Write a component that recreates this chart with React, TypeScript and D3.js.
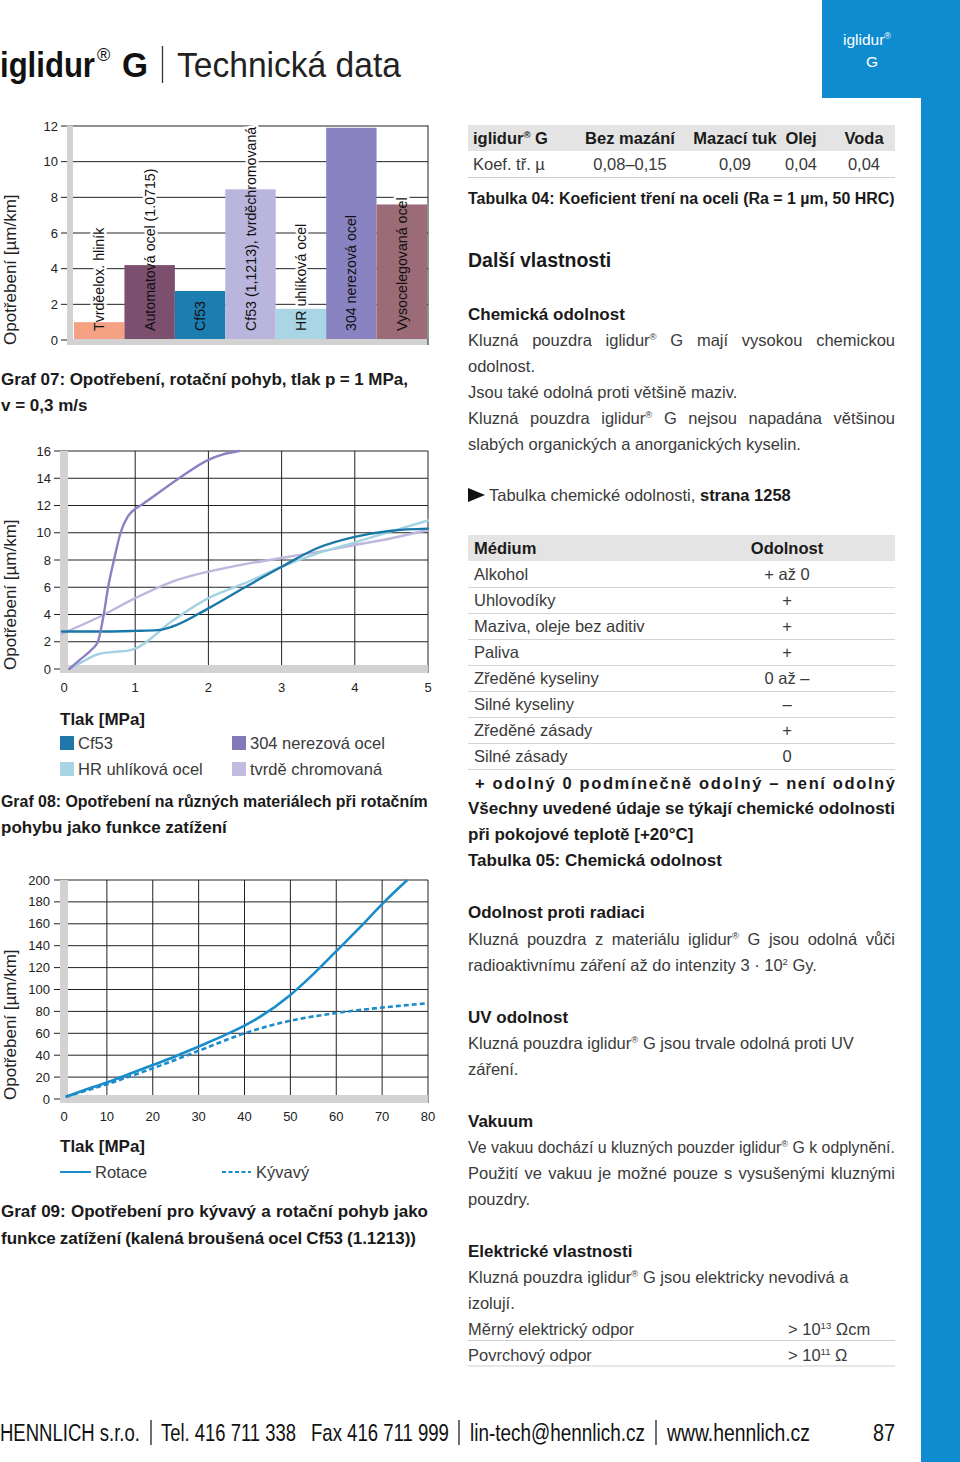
import React from 'react';
import * as d3 from 'd3';

const FONT = "'Liberation Sans', Arial, Helvetica, sans-serif";
const BLUE = '#0f8bd0';
const TXT = '#3a3a3a';
const DARK = '#1a1a1a';

// ---------- Graf 07 (bar chart) ----------
const barCategories = [
  'Tvrděelox. hliník',
  'Automatová ocel (1.0715)',
  'Cf53',
  'Cf53 (1,1213), tvrděchromovaná',
  'HR uhlíková ocel',
  '304 nerezová ocel',
  'Vysocelegovaná ocel',
];
const barValues = [1.0, 4.2, 2.75, 8.45, 1.75, 11.9, 7.6];
const barColors = ['#f4a283', '#7d4f6f', '#1b7db0', '#b9b5dc', '#a9d5e5', '#8a83c2', '#9b6b78'];
const barTicks = [0, 2, 4, 6, 8, 10, 12];

// ---------- Graf 08 (lines) ----------
const g08XTicks = [0, 1, 2, 3, 4, 5];
const g08YTicks = [0, 2, 4, 6, 8, 10, 12, 14, 16];
const cf53P = [0, 0.5, 1, 1.3, 1.5, 2, 2.5, 3, 3.5, 4, 4.5, 5];
const cf53W = [2.75, 2.75, 2.8, 2.85, 3.1, 4.45, 6.0, 7.5, 8.9, 9.7, 10.15, 10.3];
const hrP = [0.1, 0.3, 0.5, 0.7, 0.9, 1, 1.5, 2, 2.5, 3, 3.5, 4, 4.5, 5];
const hrW = [0, 0.6, 1.1, 1.25, 1.35, 1.5, 3.5, 5.2, 6.3, 7.5, 8.5, 9.3, 10.1, 10.9];
const ssP = [0.1, 0.25, 0.42, 0.49, 0.57, 0.63, 0.71, 0.8, 0.9, 1.0, 1.1, 1.6, 2.0, 2.2, 2.42];
const ssW = [0, 0.7, 1.5, 2.0, 4.0, 6.0, 8.0, 10.0, 11.2, 11.75, 12.1, 14.0, 15.35, 15.75, 16];
const chP = [0, 0.5, 1, 1.5, 2, 2.5, 3, 3.5, 4, 4.5, 5];
const chW = [2.6, 3.8, 5.2, 6.4, 7.15, 7.7, 8.15, 8.6, 9.1, 9.6, 10.2];
const g08Series = [
  { name: 'tvrdě chromovaná', p: chP, w: chW, color: '#bdb7de' },
  { name: 'HR uhlíková ocel', p: hrP, w: hrW, color: '#a3d3e3' },
  { name: 'Cf53', p: cf53P, w: cf53W, color: '#1a78a8' },
  { name: '304 nerezová ocel', p: ssP, w: ssW, color: '#8a80c2' },
];

// ---------- Graf 09 (lines) ----------
const g09XTicks = [0, 10, 20, 30, 40, 50, 60, 70, 80];
const g09YTicks = [0, 20, 40, 60, 80, 100, 120, 140, 160, 180, 200];
const rotP = [1, 5, 10, 15, 20, 25, 30, 35, 40, 43, 50, 55, 60, 65, 70, 75.5];
const rotW = [2, 8, 15, 23, 31, 39, 48, 57, 67, 74, 95, 114, 135, 156, 178, 200];
const kyvP = [1, 10, 20, 30, 40, 50, 60, 70, 80];
const kyvW = [2, 13.5, 28, 44, 60, 71.5, 78.5, 83.5, 87.5];

// ---------- Tables ----------
const t04Header = ['iglidur® G', 'Bez mazání', 'Mazací tuk', 'Olej', 'Voda'];
const t04Row = ['Koef. tř. µ', '0,08–0,15', '0,09', '0,04', '0,04'];
const t04Centers = [0, 630, 735, 801, 864];
const t05Media = ['Alkohol', 'Uhlovodíky', 'Maziva, oleje bez aditiv', 'Paliva', 'Zředěné kyseliny', 'Silné kyseliny', 'Zředěné zásady', 'Silné zásady'];
const t05Resist = ['+ až 0', '+', '+', '+', '0 až –', '–', '+', '0'];

// ---------- text helpers ----------
let _ctx: CanvasRenderingContext2D | null = null;
function tw(s: string, size: number, weight: string) {
  if (!_ctx) _ctx = document.createElement('canvas').getContext('2d');
  _ctx!.font = `${weight} ${size}px ${FONT}`;
  return _ctx!.measureText(s).width;
}
type Seg = { t: string; sup: boolean };
function parseRich(s: string): Seg[] {
  const segs: Seg[] = [];
  let buf = '';
  for (let i = 0; i < s.length; i++) {
    const c = s[i];
    if (c === '®') {
      if (buf) segs.push({ t: buf, sup: false });
      buf = '';
      segs.push({ t: '®', sup: true });
    } else if (c === '^' && s[i + 1] === '{') {
      const end = s.indexOf('}', i);
      if (buf) segs.push({ t: buf, sup: false });
      buf = '';
      segs.push({ t: s.slice(i + 2, end), sup: true });
      i = end;
    } else buf += c;
  }
  if (buf) segs.push({ t: buf, sup: false });
  return segs;
}
const SUP = 0.58;
function richWidth(s: string, size: number, weight: string) {
  return parseRich(s).reduce((a, sg) => a + tw(sg.t, sg.sup ? size * SUP : size, weight), 0);
}
function renderSegs(s: string, size: number) {
  let shift = 0;
  return parseRich(s).map((sg, i) => {
    if (sg.sup) {
      const target = -size * 0.38;
      const dy = target - shift;
      shift = target;
      return <tspan key={i} fontSize={size * SUP} dy={dy}>{sg.t}</tspan>;
    }
    const dy = -shift;
    shift = 0;
    return <tspan key={i} dy={dy}>{sg.t}</tspan>;
  });
}

function FitText({ x, y, w, t, size, bold = false, fill = '#111' }: { x: number; y: number; w: number; t: string; size: number; bold?: boolean; fill?: string }) {
  const weight = bold ? 'bold' : 'normal';
  const sx = w / richWidth(t, size, weight);
  return (
    <text transform={`translate(${x},${y}) scale(${sx},1)`} fontSize={size} fontWeight={weight} fill={fill}>
      {renderSegs(t, size)}
    </text>
  );
}

function RLine({ x, y, t, size = 16.5, bold = false, fill, justifyTo }: { x: number; y: number; t: string; size?: number; bold?: boolean; fill?: string; justifyTo?: number }) {
  const weight = bold ? 'bold' : 'normal';
  const color = fill || (bold ? DARK : TXT);
  if (justifyTo) {
    const words = t.split(' ');
    const widths = words.map(w => richWidth(w, size, weight));
    const total = widths.reduce((a, b) => a + b, 0);
    const gap = (justifyTo - x - total) / (words.length - 1);
    if (gap < 3) {
      return <FitText x={x} y={y} w={justifyTo - x} t={t} size={size} bold={bold} fill={color} />;
    }
    let cx = x;
    return (
      <g>
        {words.map((w, i) => {
          const el = (
            <text key={i} x={cx} y={y} fontSize={size} fontWeight={weight} fill={color}>
              {renderSegs(w, size)}
            </text>
          );
          cx += widths[i] + gap;
          return el;
        })}
      </g>
    );
  }
  return (
    <text x={x} y={y} fontSize={size} fontWeight={weight} fill={color}>
      {renderSegs(t, size)}
    </text>
  );
}

function YLabel({ x, y }: { x: number; y: number }) {
  return (
    <text transform={`translate(${x},${y}) rotate(-90)`} dy="0.35em" fontSize={17} fill="#222">
      Opotřebení [µm/km]
    </text>
  );
}

// ---------- Charts ----------
function BarChart() {
  const x = d3.scaleBand<string>().domain(barCategories).range([74, 427]).padding(0);
  const y = d3.scaleLinear().domain([0, 12]).range([340, 126]);
  const bw = x.bandwidth();
  const labelY = 331;
  const fs = 14.2;
  return (
    <g>
      {barTicks.map(t => (
        <g key={t}>
          <line x1={61} x2={428} y1={y(t)} y2={y(t)} stroke="#222" strokeWidth={1} />
          <text x={58} y={y(t)} dy="0.35em" textAnchor="end" fontSize={13} fill="#222">{t}</text>
        </g>
      ))}
      {barCategories.map((c, i) => (
        <text key={'h' + i} transform={`translate(${x(c)! + bw / 2},${labelY}) rotate(-90)`} dy="0.36em" fontSize={fs} stroke="#fff" strokeWidth={5} strokeLinejoin="round" fill="#fff">{c}</text>
      ))}
      {barCategories.map((c, i) => (
        <rect key={'b' + i} x={x(c)} y={y(barValues[i])} width={bw} height={y(0) - y(barValues[i])} fill={barColors[i]} />
      ))}
      {barCategories.map((c, i) => (
        <text key={'l' + i} transform={`translate(${x(c)! + bw / 2},${labelY}) rotate(-90)`} dy="0.36em" fontSize={fs} fill="#111">{c}</text>
      ))}
      <rect x={67} y={125.5} width={6} height={219.5} fill="#d2d2d2" />
      <rect x={67} y={339} width={361} height={6} fill="#d2d2d2" />
      <line x1={428} x2={428} y1={125.5} y2={345} stroke="#222" strokeWidth={1} />
      <YLabel x={10} y={345} />
    </g>
  );
}

function Chart08() {
  const x = d3.scaleLinear().domain([0, 5]).range([62, 428]);
  const y = d3.scaleLinear().domain([0, 16]).range([669, 451]);
  const line = d3.line<[number, number]>().x(d => x(d[0])).y(d => y(d[1])).curve(d3.curveMonotoneX);
  return (
    <g>
      <defs>
        <clipPath id="clip08"><rect x={60} y={449} width={370} height={224} /></clipPath>
      </defs>
      {g08YTicks.map(t => (
        <g key={t}>
          <line x1={54} x2={428} y1={y(t)} y2={y(t)} stroke="#222" strokeWidth={1} />
          <text x={51} y={y(t)} dy="0.35em" textAnchor="end" fontSize={13} fill="#222">{t}</text>
        </g>
      ))}
      {g08XTicks.map(t => (
        <g key={t}>
          {t > 0 && <line x1={x(t)} x2={x(t)} y1={451} y2={673} stroke="#222" strokeWidth={1} />}
          <text x={t === 0 ? 64 : x(t)} y={692} textAnchor="middle" fontSize={13} fill="#222">{t}</text>
        </g>
      ))}
      <rect x={60} y={451} width={8} height={222} fill="#d2d2d2" />
      <rect x={60} y={665} width={368} height={8} fill="#d2d2d2" />
      <g clipPath="url(#clip08)">
        {g08Series.map(s => (
          <path key={s.name} d={line(s.p.map((p, i) => [p, s.w[i]] as [number, number])) || ''} fill="none" stroke={s.color} strokeWidth={2.4} strokeLinecap="round" />
        ))}
      </g>
      <YLabel x={10} y={670} />
      <text x={60} y={725} fontSize={17} fontWeight="bold" fill={DARK}>Tlak [MPa]</text>
      <rect x={60} y={736} width={14} height={14} fill="#1f77a8" />
      <text x={78} y={749} fontSize={16.5} fill={TXT}>Cf53</text>
      <rect x={232} y={736} width={14} height={14} fill="#8279b9" />
      <text x={250} y={749} fontSize={16.5} fill={TXT}>304 nerezová ocel</text>
      <rect x={60} y={762} width={14} height={14} fill="#a8d4e4" />
      <text x={78} y={775} fontSize={16.5} fill={TXT}>HR uhlíková ocel</text>
      <rect x={232} y={762} width={14} height={14} fill="#c1bbe0" />
      <text x={250} y={775} fontSize={16.5} fill={TXT}>tvrdě chromovaná</text>
    </g>
  );
}

function Chart09() {
  const x = d3.scaleLinear().domain([0, 80]).range([61, 428]);
  const y = d3.scaleLinear().domain([0, 200]).range([1099, 880]);
  const line = d3.line<[number, number]>().x(d => x(d[0])).y(d => y(d[1])).curve(d3.curveMonotoneX);
  const c = '#1a8ccc';
  return (
    <g>
      <defs>
        <clipPath id="clip09"><rect x={60} y={878} width={370} height={225} /></clipPath>
      </defs>
      {g09YTicks.map(t => (
        <g key={t}>
          <line x1={54} x2={428} y1={y(t)} y2={y(t)} stroke="#222" strokeWidth={1} />
          <text x={50} y={y(t)} dy="0.35em" textAnchor="end" fontSize={13} fill="#222">{t}</text>
        </g>
      ))}
      {g09XTicks.map(t => (
        <g key={t}>
          {t > 0 && <line x1={x(t)} x2={x(t)} y1={880} y2={1103} stroke="#222" strokeWidth={1} />}
          <text x={t === 0 ? 64 : x(t)} y={1121} textAnchor="middle" fontSize={13} fill="#222">{t}</text>
        </g>
      ))}
      <rect x={60} y={880} width={8} height={223} fill="#d2d2d2" />
      <rect x={60} y={1095} width={368} height={8} fill="#d2d2d2" />
      <g clipPath="url(#clip09)">
        <path d={line(kyvP.map((p, i) => [p, kyvW[i]] as [number, number])) || ''} fill="none" stroke={c} strokeWidth={2.6} strokeDasharray="5,3" />
        <path d={line(rotP.map((p, i) => [p, rotW[i]] as [number, number])) || ''} fill="none" stroke={c} strokeWidth={2.6} />
      </g>
      <YLabel x={10} y={1100} />
      <text x={60} y={1152} fontSize={17} fontWeight="bold" fill={DARK}>Tlak [MPa]</text>
      <line x1={60} x2={91} y1={1172} y2={1172} stroke={c} strokeWidth={2} />
      <text x={95} y={1178} fontSize={16.5} fill={TXT}>Rotace</text>
      <line x1={222} x2={251} y1={1172} y2={1172} stroke={c} strokeWidth={2} strokeDasharray="4,2.5" />
      <text x={256} y={1178} fontSize={16.5} fill={TXT}>Kývavý</text>
    </g>
  );
}

function Header() {
  return (
    <g>
      <FitText x={0} y={77} w={95} t="iglidur" size={35} bold />
      <text x={97} y={61} fontSize={18} fill="#111">®</text>
      <FitText x={122} y={77} w={26} t="G" size={35} bold />
      <line x1={162.5} x2={162.5} y1={46} y2={83} stroke="#333" strokeWidth={1.3} />
      <FitText x={177} y={77} w={224} t="Technická data" size={35} fill="#222" />
      <rect x={822} y={0} width={138} height={98} fill={BLUE} />
      <rect x={921} y={98} width={39} height={1364} fill={BLUE} />
      <text x={843} y={45} fontSize={15.5} fill="#fff">iglidur<tspan fontSize={9} dy={-6}>®</tspan></text>
      <text x={872} y={67} textAnchor="middle" fontSize={15.5} fill="#fff">G</text>
    </g>
  );
}

function LeftTitles() {
  return (
    <g>
      <RLine x={1} y={385} t="Graf 07: Opotřebení, rotační pohyb, tlak p = 1 MPa," size={17} bold justifyTo={408} />
      <RLine x={1} y={411} t="v = 0,3 m/s" size={17} bold />
      <RLine x={1} y={807} t="Graf 08: Opotřebení na různých materiálech při rotačním" size={17} bold justifyTo={428} />
      <RLine x={1} y={833} t="pohybu jako funkce zatížení" size={17} bold />
      <RLine x={1} y={1217} t="Graf 09: Opotřebení pro kývavý a rotační pohyb jako" size={17} bold justifyTo={428} />
      <RLine x={1} y={1244} t="funkce zatížení (kalená broušená ocel Cf53 (1.1213))" size={17} bold justifyTo={416} />
    </g>
  );
}

const rightLines: { y: number; t: string; bold?: boolean; j?: boolean; size?: number }[] = [
  { y: 267, t: 'Další vlastnosti', bold: true, size: 19.5 },
  { y: 320, t: 'Chemická odolnost', bold: true, size: 17 },
  { y: 346, t: 'Kluzná pouzdra iglidur® G mají vysokou chemickou', j: true },
  { y: 372, t: 'odolnost.' },
  { y: 398, t: 'Jsou také odolná proti většině maziv.' },
  { y: 424, t: 'Kluzná pouzdra iglidur® G nejsou napadána většinou', j: true },
  { y: 450, t: 'slabých organických a anorganických kyselin.' },
  { y: 814, t: 'Všechny uvedené údaje se týkají chemické odolnosti', bold: true, j: true, size: 17 },
  { y: 840, t: 'při pokojové teplotě [+20°C]', bold: true, size: 17 },
  { y: 866, t: 'Tabulka 05: Chemická odolnost', bold: true, size: 17 },
  { y: 918, t: 'Odolnost proti radiaci', bold: true, size: 17 },
  { y: 945, t: 'Kluzná pouzdra z materiálu iglidur® G jsou odolná vůči', j: true },
  { y: 971, t: 'radioaktivnímu záření až do intenzity 3 · 10^{2} Gy.' },
  { y: 1023, t: 'UV odolnost', bold: true, size: 17 },
  { y: 1049, t: 'Kluzná pouzdra iglidur® G jsou trvale odolná proti UV' },
  { y: 1075, t: 'záření.' },
  { y: 1127, t: 'Vakuum', bold: true, size: 17 },
  { y: 1153, t: 'Ve vakuu dochází u kluzných pouzder iglidur® G k odplynění.', j: true },
  { y: 1179, t: 'Použití ve vakuu je možné pouze s vysušenými kluznými', j: true },
  { y: 1205, t: 'pouzdry.' },
  { y: 1257, t: 'Elektrické vlastnosti', bold: true, size: 17 },
  { y: 1283, t: 'Kluzná pouzdra iglidur® G jsou elektricky nevodivá a' },
  { y: 1309, t: 'izolují.' },
  { y: 1335, t: 'Měrný elektrický odpor' },
  { y: 1361, t: 'Povrchový odpor' },
];

function RightColumn() {
  const L = 468, R = 895;
  return (
    <g>
      {/* Tabulka 04 */}
      <rect x={L} y={125} width={R - L} height={26} fill="#e4e4e4" />
      {t04Header.map((h, i) => i === 0
        ? <RLine key={i} x={473} y={144} t={h} size={16.5} bold />
        : <text key={i} x={t04Centers[i]} y={144} textAnchor="middle" fontSize={16.5} fontWeight="bold" fill={DARK}>{h}</text>)}
      {t04Row.map((h, i) => i === 0
        ? <text key={i} x={473} y={170} fontSize={16.5} fill={TXT}>{h}</text>
        : <text key={i} x={t04Centers[i]} y={170} textAnchor="middle" fontSize={16.5} fill={TXT}>{h}</text>)}
      <line x1={L} x2={R} y1={177.5} y2={177.5} stroke="#cfcfcf" strokeWidth={1} />
      <FitText x={L} y={204} w={R - L} t="Tabulka 04: Koeficient tření na oceli (Ra = 1 µm, 50 HRC)" size={17} bold fill={DARK} />

      {rightLines.map((l, i) => (
        <RLine key={i} x={L} y={l.y} t={l.t} bold={l.bold} size={l.size || 16.5} justifyTo={l.j ? R : undefined} />
      ))}

      <path d="M468,488 L485,495 L468,502 Z" fill="#111" />
      <text x={489} y={501} fontSize={16.5} fill={TXT}>Tabulka chemické odolnosti, <tspan fontWeight="bold" fill={DARK} fontSize={16.5}>strana 1258</tspan></text>

      {/* Tabulka 05 */}
      <rect x={L} y={535} width={R - L} height={26} fill="#e4e4e4" />
      <text x={474} y={554} fontSize={16.5} fontWeight="bold" fill={DARK}>Médium</text>
      <text x={787} y={554} textAnchor="middle" fontSize={16.5} fontWeight="bold" fill={DARK}>Odolnost</text>
      {t05Media.map((m, i) => (
        <g key={i}>
          <text x={474} y={580 + i * 26} fontSize={16.5} fill={TXT}>{m}</text>
          <text x={787} y={580 + i * 26} textAnchor="middle" fontSize={16.5} fill={TXT}>{t05Resist[i]}</text>
          <line x1={L} x2={R} y1={587.5 + i * 26} y2={587.5 + i * 26} stroke="#d4d4d4" strokeWidth={1} />
        </g>
      ))}
      <text x={475} y={789} fontSize={16.5} fontWeight="bold" fill={DARK} textLength={R - 475} lengthAdjust="spacing">+ odolný 0 podmínečně odolný – není odolný</text>

      {/* electrical values */}
      <RLine x={788} y={1335} t="> 10^{13} Ωcm" />
      <RLine x={788} y={1361} t="> 10^{11} Ω" />
      <line x1={L} x2={R} y1={1340.5} y2={1340.5} stroke="#cfcfcf" strokeWidth={1} />
      <line x1={L} x2={R} y1={1366} y2={1366} stroke="#cfcfcf" strokeWidth={1} />
    </g>
  );
}

const footerParts: [string, number, number][] = [
  ['HENNLICH s.r.o.', 0, 140],
  ['Tel. 416 711 338', 161, 296],
  ['Fax 416 711 999', 311, 449],
  ['lin-tech@hennlich.cz', 470, 645],
  ['www.hennlich.cz', 667, 810],
  ['87', 873, 895],
];
const footerBars = [151, 459, 656];

function Footer() {
  return (
    <g>
      {footerParts.map(([t, a, b], i) => (
        <FitText key={i} x={a} y={1441} w={b - a} t={t} size={24} fill="#111" />
      ))}
      {footerBars.map((bx, i) => (
        <line key={i} x1={bx} x2={bx} y1={1420} y2={1445} stroke="#222" strokeWidth={1.3} />
      ))}
    </g>
  );
}

export default function App() {
  return (
    <svg width={960} height={1462} style={{ position: 'absolute', left: 0, top: 0, display: 'block' }} fontFamily={FONT}>
      <rect width={960} height={1462} fill="#fff" />
      <Header />
      <BarChart />
      <LeftTitles />
      <Chart08 />
      <Chart09 />
      <RightColumn />
      <Footer />
    </svg>
  );
}
